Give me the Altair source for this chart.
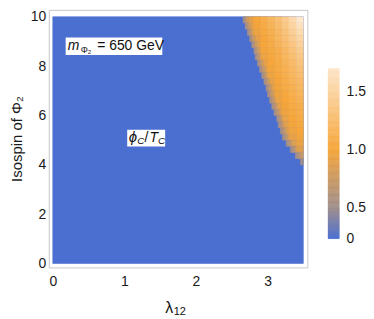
import altair as alt
import pandas as pd

# ---- data ----
# blue background region: value 0 everywhere
base_x = [0.0, 3.5]
base_y = [0.0, 10.0]

# grid of the nonzero (orange) region: columns of width 0.1, rows of height 0.25
col_left = [2.6, 2.7, 2.8, 2.9, 3.0, 3.1, 3.2, 3.3, 3.4]
row_center = [9.875, 9.625, 9.375, 9.125, 8.875, 8.625, 8.375, 8.125,
              7.875, 7.625, 7.375, 7.125, 6.875, 6.625, 6.375, 6.125,
              5.875, 5.625, 5.375, 5.125, 4.875, 4.625, 4.375, 4.125]
# left edge of the orange region in each row
boundary = [2.66, 2.69, 2.72, 2.75, 2.78, 2.81, 2.83, 2.86,
            2.89, 2.92, 2.95, 2.98, 3.00, 3.03, 3.06, 3.09,
            3.13, 3.15, 3.18, 3.21, 3.26, 3.32, 3.39, 3.46]
# values in the greyish band right at the edge (outer, inner)
fringe_out = [0.55, 0.55, 0.55, 0.55, 0.55, 0.55, 0.55, 0.55,
              0.55, 0.55, 0.55, 0.55, 0.55, 0.55, 0.55, 0.54,
              0.54, 0.54, 0.53, 0.53, 0.52, 0.52, 0.51, 0.50]
fringe_in = [0.76, 0.75, 0.75, 0.75, 0.74, 0.74, 0.73, 0.73,
             0.72, 0.72, 0.72, 0.71, 0.71, 0.70, 0.70, 0.70,
             0.69, 0.69, 0.68, 0.68, 0.66, 0.65, 0.62, 0.60]
values = [
    [0, 0.88, 1.00, 1.08, 1.17, 1.27, 1.40, 1.55, 1.72],
    [0, 0.86, 0.98, 1.06, 1.14, 1.24, 1.36, 1.50, 1.65],
    [0, 0.85, 0.95, 1.03, 1.10, 1.20, 1.31, 1.44, 1.58],
    [0, 0, 0.90, 1.00, 1.08, 1.17, 1.28, 1.40, 1.52],
    [0, 0, 0.88, 1.00, 1.06, 1.14, 1.24, 1.35, 1.47],
    [0, 0, 0.86, 0.98, 1.04, 1.10, 1.20, 1.31, 1.42],
    [0, 0, 0.85, 0.95, 1.02, 1.08, 1.17, 1.27, 1.37],
    [0, 0, 0, 0.90, 1.00, 1.06, 1.14, 1.23, 1.33],
    [0, 0, 0, 0.88, 0.98, 1.05, 1.12, 1.20, 1.29],
    [0, 0, 0, 0.85, 0.95, 1.02, 1.10, 1.17, 1.25],
    [0, 0, 0, 0, 0.90, 1.00, 1.08, 1.15, 1.22],
    [0, 0, 0, 0, 0.88, 0.98, 1.06, 1.12, 1.19],
    [0, 0, 0, 0, 0.86, 0.95, 1.02, 1.10, 1.16],
    [0, 0, 0, 0, 0.84, 0.93, 1.00, 1.07, 1.13],
    [0, 0, 0, 0, 0, 0.90, 0.98, 1.05, 1.10],
    [0, 0, 0, 0, 0, 0.86, 0.96, 1.03, 1.08],
    [0, 0, 0, 0, 0, 0.84, 0.92, 1.00, 1.05],
    [0, 0, 0, 0, 0, 0, 0.88, 0.98, 1.03],
    [0, 0, 0, 0, 0, 0, 0.86, 0.95, 1.00],
    [0, 0, 0, 0, 0, 0, 0.82, 0.90, 0.97],
    [0, 0, 0, 0, 0, 0, 0, 0.84, 0.93],
    [0, 0, 0, 0, 0, 0, 0, 0.80, 0.86],
    [0, 0, 0, 0, 0, 0, 0, 0, 0.75],
    [0, 0, 0, 0, 0, 0, 0, 0, 0],
]
fringe_step = 0.04

x_ticks = [0, 1, 2, 3]
y_ticks = [0, 2, 4, 6, 8, 10]
bar_ticks = [0, 0.5, 1.0, 1.5]

color_domain = [0, 0.5, 1.0, 1.7]
color_range = ["#4b6fd1", "#a08e8c", "#f6a63a", "#fde6c9"]

# annotations (data coordinates)
box_x = [0.18, 1.04]
box_x2 = [1.53, 1.57]
box_y = [9.16, 5.42]
box_y2 = [8.45, 4.74]

ann_text = ["m", "Φ₂", "= 650 GeV", "ϕ", "C", "/", "T", "C", "λ", "12"]
ann_x = [0.21, 0.39, 0.62, 1.06, 1.18, 1.28, 1.35, 1.47, 1.57, 1.69]
ann_y = [8.65, 8.53, 8.65, 4.94, 4.86, 4.94, 4.94, 4.86, -2.0, -2.1]
ann_size = [14, 9, 14, 15, 10, 14, 14, 10, 16, 11]
ann_italic = [True, False, False, True, True, False, True, True, False, False]

# ---- tables ----
base_df = pd.DataFrame({"x": [base_x[0]], "x2": [base_x[1]],
                        "y": [base_y[0]], "y2": [base_y[1]], "v": [0.0]})
rows = []
for r, yc in enumerate(row_center):
    b = boundary[r]
    y0, y1 = yc - 0.125, yc + 0.125
    for k, fv in enumerate([fringe_out[r], fringe_in[r]]):
        fx0 = b + k * fringe_step
        fx1 = min(b + (k + 1) * fringe_step, base_x[1])
        if fx0 < fx1:
            rows.append({"x": fx0, "x2": fx1, "y": y0, "y2": y1, "v": fv})
    for c, xl in enumerate(col_left):
        v = values[r][c]
        xr = round(xl + 0.1, 3)
        x0 = max(xl, b + 2 * fringe_step)
        if v > 0 and x0 < xr:
            rows.append({"x": x0, "x2": xr, "y": y0, "y2": y1, "v": v})
cells_df = pd.DataFrame(rows)
boxes_df = pd.DataFrame({"x": box_x, "x2": box_x2, "y": box_y, "y2": box_y2})
ann_df = pd.DataFrame({"t": ann_text, "x": ann_x, "y": ann_y,
                       "s": ann_size, "it": ann_italic})

FONT = "Liberation Sans"
W, H = 260, 259
xs = alt.Scale(domain=[-0.056, 3.556], nice=False, zero=False)
ys = alt.Scale(domain=[-0.16, 10.28], nice=False, zero=False)
cscale = alt.Scale(domain=color_domain, range=color_range, interpolate="rgb")

xaxis = alt.Axis(values=x_ticks, format="d", title=None, grid=False, domain=False,
                 ticks=False, labelFontSize=14, labelPadding=7,
                 labelColor="#1a1a1a", labelFont=FONT)
yaxis = alt.Axis(values=y_ticks, format="d", title="Isospin of Φ₂", grid=False,
                 domain=False, ticks=False, labelFontSize=14, labelPadding=3,
                 titleFontSize=15, titleFontWeight="normal", titlePadding=6,
                 labelColor="#1a1a1a", titleColor="#1a1a1a", labelFont=FONT,
                 titleFont=FONT)


def heat(df):
    return alt.Chart(df).mark_rect(strokeWidth=0.6).encode(
        x=alt.X("x:Q", scale=xs, axis=xaxis),
        x2="x2:Q",
        y=alt.Y("y:Q", scale=ys, axis=yaxis),
        y2="y2:Q",
        color=alt.Color("v:Q", scale=cscale, legend=None),
        stroke=alt.Stroke("v:Q", scale=cscale, legend=None),
    )


boxes = alt.Chart(boxes_df).mark_rect(color="white").encode(
    x=alt.X("x:Q", scale=xs), x2="x2:Q", y=alt.Y("y:Q", scale=ys), y2="y2:Q")

ann_reg = alt.Chart(ann_df).transform_filter("!datum.it").mark_text(
    align="left", baseline="alphabetic", font=FONT, color="#111").encode(
    x=alt.X("x:Q", scale=xs), y=alt.Y("y:Q", scale=ys), text="t:N",
    size=alt.Size("s:Q", scale=None))
ann_it = alt.Chart(ann_df).transform_filter("datum.it").mark_text(
    align="left", baseline="alphabetic", font=FONT, fontStyle="italic",
    color="#111").encode(
    x=alt.X("x:Q", scale=xs), y=alt.Y("y:Q", scale=ys), text="t:N",
    size=alt.Size("s:Q", scale=None))

main = alt.layer(heat(base_df), heat(cells_df), boxes, ann_reg, ann_it).properties(
    width=W, height=H,
    view=alt.ViewBackground(stroke="#c8c8c8", strokeWidth=1))

bar = alt.Chart(alt.sequence(0, 1.7, 0.01, as_="v")).transform_calculate(
    v2="datum.v + 0.01").mark_rect(strokeWidth=0.6).encode(
    x=alt.value(0), x2=alt.value(11),
    y=alt.Y("v:Q", scale=alt.Scale(domain=[0, 0.5, 1.7], range=[230, 199, 59],
                                    nice=False, zero=False),
            axis=alt.Axis(orient="right", values=bar_ticks,
                          labelExpr="datum.value == 0 ? '0' : format(datum.value, '.1f')",
                          grid=False, domain=False, ticks=False, title=None,
                          labelFontSize=14, labelPadding=7, labelFont=FONT,
                          labelColor="#1a1a1a")),
    y2="v2:Q",
    color=alt.Color("v:Q", scale=cscale, legend=None),
    stroke=alt.Stroke("v:Q", scale=cscale, legend=None),
).properties(width=11, height=H,
             view=alt.ViewBackground(stroke="transparent", strokeWidth=0))

chart = alt.hconcat(main, bar, spacing=19, padding=0).configure(background="white")

chart.save("out.html", embed_options={"renderer": "svg", "actions": False})
